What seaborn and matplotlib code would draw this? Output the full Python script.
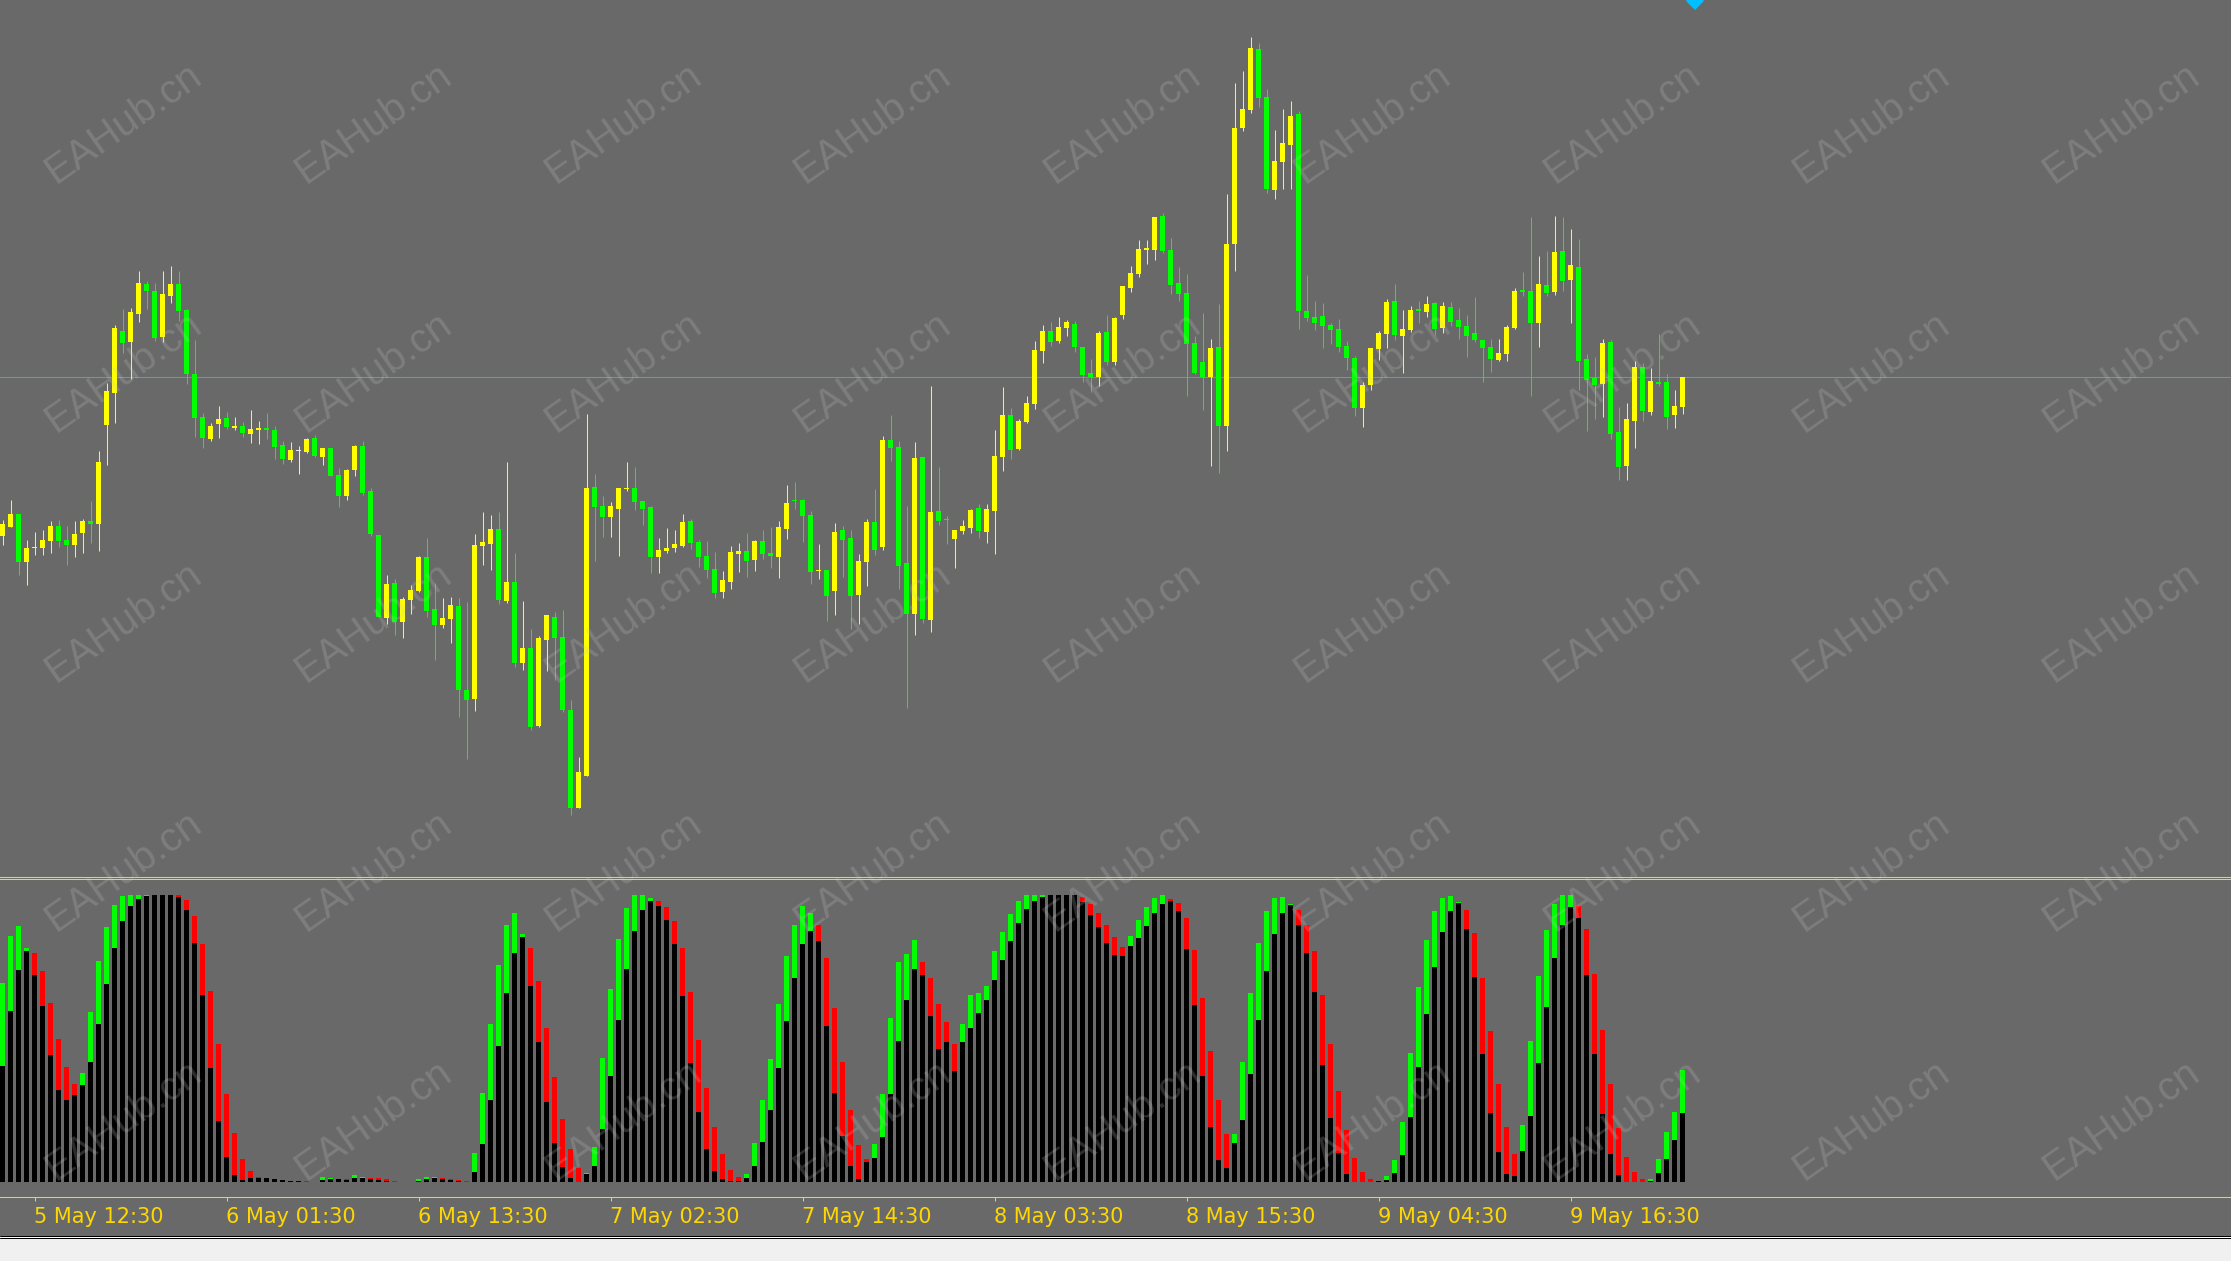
import numpy as np
import pandas as pd
import matplotlib
matplotlib.use("Agg")
import matplotlib.pyplot as plt
import seaborn as sns
from matplotlib.lines import Line2D
from matplotlib.patches import Rectangle

# ---------------- data (30-min bars, price in points) ----------------
open_ = [
    464, 473, 486, 438, 452, 452, 459, 474, 460, 455,
    467, 479, 476, 575, 607, 669, 658, 686, 716, 709,
    663, 704, 716, 690, 626, 583, 561, 576, 582, 572,
    574, 566, 570, 572, 570, 555, 540, 549, 548, 562,
    543, 552, 525, 504, 530, 554, 509, 465, 382, 417,
    378, 400, 409, 443, 391, 375, 381, 394, 310, 301,
    454, 456, 471, 399, 418, 337, 352, 274, 360, 383,
    363, 290, 192, 224, 513, 494, 483, 491, 511, 512,
    499, 493, 443, 449, 452, 454, 479, 458, 444, 431,
    408, 418, 446, 449, 440, 459, 447, 443, 471, 500,
    500, 485, 429, 430, 409, 470, 462, 405, 438, 478,
    453, 560, 553, 437, 386, 543, 380, 489, 481, 461,
    469, 472, 492, 468, 489, 543, 585, 551, 578, 596,
    649, 669, 659, 672, 676, 653, 627, 623, 668, 638,
    685, 712, 726, 750, 750, 784, 750, 717, 707, 657,
    638, 623, 653, 574, 756, 872, 890, 951, 903, 810,
    838, 855, 886, 689, 683, 684, 675, 671, 654, 642,
    592, 615, 651, 666, 699, 664, 670, 691, 688, 697,
    672, 693, 680, 674, 667, 660, 653, 640, 646, 672,
    710, 709, 677, 715, 708, 749, 720, 733, 641, 622,
    616, 658, 568, 534, 579, 633, 588, 618, 618, 585,
    593,
]
high = [
    480, 500, 486, 460, 468, 470, 479, 480, 474, 479,
    481, 499, 549, 617, 675, 691, 692, 729, 719, 717,
    729, 734, 729, 691, 660, 587, 577, 594, 588, 583,
    578, 590, 579, 587, 574, 559, 558, 554, 562, 565,
    552, 552, 532, 531, 555, 559, 512, 465, 425, 421,
    403, 415, 444, 462, 417, 402, 403, 402, 398, 466,
    488, 485, 488, 538, 447, 399, 371, 364, 385, 388,
    390, 300, 243, 586, 526, 504, 498, 512, 538, 533,
    499, 494, 462, 472, 470, 486, 481, 460, 459, 448,
    429, 454, 457, 467, 460, 470, 473, 479, 515, 518,
    501, 489, 456, 430, 477, 474, 470, 446, 481, 511,
    564, 585, 559, 494, 558, 543, 614, 533, 484, 470,
    480, 491, 496, 496, 570, 613, 592, 581, 604, 659,
    675, 678, 683, 680, 679, 653, 641, 669, 685, 683,
    714, 734, 760, 760, 783, 787, 762, 733, 726, 664,
    687, 661, 696, 806, 917, 929, 963, 957, 911, 870,
    891, 899, 889, 725, 699, 697, 677, 681, 659, 644,
    618, 652, 669, 701, 716, 690, 694, 699, 704, 698,
    698, 698, 692, 685, 703, 660, 661, 661, 675, 712,
    728, 783, 744, 749, 784, 783, 771, 761, 646, 643,
    661, 660, 593, 597, 639, 637, 632, 666, 626, 610,
    623,
]
low = [
    455, 473, 425, 415, 445, 445, 447, 453, 435, 443,
    447, 457, 449, 535, 577, 647, 621, 678, 691, 659,
    658, 697, 679, 616, 563, 552, 559, 562, 571, 570,
    563, 557, 556, 561, 541, 536, 538, 526, 547, 543,
    535, 524, 493, 500, 524, 505, 464, 383, 376, 365,
    362, 386, 408, 383, 340, 372, 357, 283, 241, 289,
    435, 430, 396, 397, 333, 330, 270, 273, 329, 320,
    288, 185, 192, 224, 439, 463, 463, 444, 509, 490,
    475, 427, 427, 447, 448, 453, 451, 433, 422, 402,
    402, 411, 428, 423, 429, 441, 432, 422, 461, 491,
    458, 416, 421, 379, 385, 423, 371, 376, 414, 445,
    450, 539, 411, 292, 365, 377, 368, 475, 456, 432,
    466, 467, 462, 457, 446, 529, 541, 550, 577, 591,
    637, 654, 657, 664, 648, 618, 608, 614, 635, 635,
    681, 708, 723, 736, 740, 747, 706, 699, 604, 626,
    590, 534, 527, 549, 729, 869, 887, 893, 807, 801,
    811, 811, 671, 679, 670, 652, 656, 648, 630, 584,
    573, 610, 640, 652, 660, 627, 668, 677, 683, 665,
    667, 674, 661, 643, 658, 618, 628, 639, 639, 671,
    704, 604, 653, 704, 705, 709, 677, 610, 569, 581,
    583, 561, 520, 520, 552, 579, 585, 614, 571, 572,
    586,
]
close = [
    476, 486, 438, 452, 453, 460, 474, 459, 455, 466,
    479, 476, 538, 609, 672, 657, 688, 717, 709, 662,
    706, 716, 689, 626, 582, 562, 574, 581, 573, 574,
    567, 571, 572, 570, 553, 541, 550, 549, 561, 544,
    552, 524, 504, 530, 554, 507, 466, 383, 416, 378,
    401, 410, 443, 389, 375, 382, 395, 310, 300, 455,
    458, 471, 400, 418, 337, 352, 273, 362, 385, 362,
    290, 192, 228, 512, 493, 483, 494, 512, 512, 498,
    491, 443, 450, 452, 456, 478, 457, 443, 430, 407,
    420, 448, 449, 439, 459, 446, 444, 473, 497, 499,
    484, 428, 430, 404, 468, 460, 404, 439, 478, 450,
    560, 552, 434, 386, 542, 381, 488, 479, 480, 470,
    474, 490, 469, 491, 544, 585, 550, 579, 597, 650,
    669, 658, 673, 678, 653, 625, 623, 667, 638, 682,
    714, 727, 751, 752, 783, 749, 715, 706, 656, 627,
    623, 652, 574, 756, 872, 891, 952, 902, 811, 839,
    857, 884, 689, 682, 677, 674, 670, 653, 642, 592,
    615, 652, 667, 698, 665, 671, 690, 689, 696, 671,
    694, 678, 673, 664, 660, 652, 641, 647, 673, 709,
    708, 677, 716, 707, 748, 719, 735, 639, 620, 615,
    657, 566, 533, 581, 633, 589, 619, 616, 583, 594,
    623,
]

# oscillator (0..100): coloured value and black base value
osc_value = [
    69.2, 85.7, 89.2, 81.7, 79.7, 73.5, 62.2, 49.8, 40.0, 34.1,
    37.9, 59.2, 77.0, 88.8, 96.5, 99.7, 100, 100, 100, 100,
    100, 100, 100, 98.3, 92.7, 82.9, 66.5, 48.0, 30.6, 17.0,
    7.9, 3.7, 1.6, 1.3, 1.2, 0.7, 0.5, 0.3, 0.2, 0.1,
    1.6, 1.3, 1.0, 0.9, 2.3, 1.6, 1.3, 1.3, 0.9, 0.2,
    0.1, 0.1, 0.9, 1.6, 1.6, 1.3, 0.9, 0.6, 0.2, 10.0,
    30.9, 55.0, 75.6, 89.5, 93.7, 86.4, 81.5, 70.0, 53.6, 36.5,
    21.9, 11.4, 4.8, 3.0, 12.1, 43.1, 67.2, 84.7, 95.5, 100,
    100, 99.0, 97.9, 95.8, 90.9, 81.5, 66.2, 49.4, 32.7, 19.1,
    9.7, 4.1, 1.6, 2.7, 13.5, 28.5, 42.8, 62.0, 78.7, 89.5,
    96.2, 93.7, 89.5, 78.0, 60.6, 41.7, 25.0, 12.8, 7.9, 13.1,
    30.6, 57.1, 76.6, 79.4, 84.3, 76.6, 71.0, 62.0, 55.7, 48.0,
    55.0, 65.1, 65.8, 68.3, 80.5, 87.1, 93.4, 97.9, 100, 100,
    100, 100, 100, 100, 100, 99.3, 96.9, 93.7, 89.5, 85.3,
    81.9, 85.7, 91.3, 95.8, 99.0, 100, 98.5, 97.2, 92.0, 80.8,
    64.1, 45.6, 28.5, 16.6, 16.6, 41.7, 65.8, 83.3, 94.4, 99.0,
    99.3, 96.9, 94.8, 89.5, 80.5, 65.3, 48.0, 31.6, 18.0, 8.3,
    3.4, 0.9, 0.2, 2.0, 7.6, 20.8, 44.9, 67.9, 84.3, 94.4,
    99.0, 99.7, 97.6, 94.8, 86.7, 71.0, 52.6, 34.1, 19.1, 9.7,
    19.8, 49.1, 71.7, 87.8, 96.9, 100, 100, 96.2, 88.1, 72.4,
    53.0, 34.1, 18.7, 8.6, 3.4, 0.9, 0.9, 7.9, 17.3, 24.3,
    39.0,
]
osc_base = [
    40.3, 59.5, 73.8, 80.5, 72.1, 61.3, 44.2, 32.0, 28.5, 30.2,
    33.7, 41.7, 55.0, 69.0, 81.5, 90.9, 96.2, 98.6, 99.7, 100,
    100, 100, 99.4, 94.8, 83.3, 65.1, 39.7, 21.2, 8.6, 2.3,
    0.6, 1.4, 1.4, 1.3, 0.9, 0.6, 0.2, 0.2, 0.1, 0.1,
    0.7, 1.0, 1.0, 0.6, 1.4, 1.4, 0.9, 0.7, 0.3, 0.0,
    0.1, 0.1, 0.3, 1.0, 1.3, 0.9, 0.6, 0.3, 0.0, 3.4,
    13.1, 28.5, 47.3, 65.8, 79.8, 85.3, 68.3, 48.7, 27.8, 13.5,
    5.1, 1.4, 0.0, 2.7, 5.5, 18.4, 36.9, 56.4, 74.2, 87.4,
    94.8, 97.9, 96.2, 91.3, 82.9, 64.8, 41.4, 24.3, 11.4, 3.7,
    0.9, 0.2, 0.2, 1.3, 5.5, 13.8, 25.0, 39.7, 56.0, 71.0,
    82.9, 87.3, 84.0, 54.3, 30.9, 15.9, 5.5, 0.9, 6.9, 8.3,
    15.6, 30.6, 49.1, 63.4, 74.2, 72.1, 57.8, 46.3, 48.8, 38.6,
    48.7, 53.6, 58.8, 63.4, 70.3, 77.3, 84.0, 90.2, 95.1, 97.9,
    99.3, 100, 100, 100, 100, 97.6, 93.0, 88.8, 83.3, 79.1,
    78.7, 82.2, 85.0, 89.2, 93.7, 96.9, 98.0, 94.4, 81.2, 61.6,
    36.9, 19.1, 7.6, 4.8, 13.5, 21.5, 37.6, 56.4, 73.5, 86.4,
    93.7, 96.5, 89.5, 79.8, 66.2, 40.9, 22.2, 10.0, 2.7, 0.0,
    0.0, 0.0, 0.2, 0.6, 3.0, 9.3, 22.6, 40.0, 58.5, 74.9,
    87.0, 94.4, 97.2, 88.1, 71.4, 44.5, 24.0, 10.3, 2.7, 2.0,
    10.7, 22.9, 41.4, 60.9, 78.0, 89.5, 95.8, 92.0, 72.1, 44.5,
    23.6, 9.7, 2.3, 0.0, 0.0, 0.0, 0.2, 3.0, 7.9, 14.5,
    24.0,
]
# colour of the oscillator bars as runs: G = rising (lime), R = falling (red)
osc_runs = [("G", 4), ("R", 6), ("G", 12), ("R", 17), ("G", 4), ("R", 1),
            ("G", 2), ("R", 6), ("G", 3), ("R", 4), ("G", 7), ("R", 7),
            ("G", 9), ("R", 11), ("G", 9), ("R", 7), ("G", 6), ("R", 5),
            ("G", 15), ("R", 6), ("G", 5), ("R", 8), ("G", 8), ("R", 11),
            ("G", 10), ("R", 7), ("G", 7), ("R", 9), ("G", 5)]

tick_bars = [4, 28, 52, 76, 100, 124, 148, 172, 196]
tick_labels = ["5 May 12:30", "6 May 01:30", "6 May 13:30", "7 May 02:30",
               "7 May 14:30", "8 May 03:30", "8 May 15:30", "9 May 04:30",
               "9 May 16:30"]
current_price = 623
signal_bar = [211.5]
signal_price = [999.5]

# ---------------- styling ----------------
W, H, DPI = 2231, 1261, 100
BG = "#696969"
GOLD = "#ffd700"
UP = "#ffff00"
DOWN = "#00ff00"
DOJI = "#e6e6fa"

sns.set_theme(style="dark", rc={"axes.facecolor": BG, "figure.facecolor": BG,
                                "savefig.facecolor": BG})
plt.rcParams["font.family"] = ["DejaVu Sans"]

n = min(len(open_), len(high), len(low), len(close))
o = np.array(open_[:n], float)
c = np.array(close[:n], float)
h = np.maximum(np.array(high[:n], float), np.maximum(o, c))
l = np.minimum(np.array(low[:n], float), np.minimum(o, c))
idx = np.arange(n)

dirs = []
for k, cnt in osc_runs:
    dirs += [k] * cnt
m = min(len(osc_value), len(osc_base))
dirs = (dirs + ["G"] * m)[:m]
osc = pd.DataFrame({"bar": np.arange(m), "value": osc_value[:m],
                    "base": osc_base[:m], "dir": dirs})

fig = plt.figure(figsize=(W / DPI, H / DPI), dpi=DPI, facecolor=BG)

y_main_bot = 877
y_sub_top, y_sub_bot = 879, 1197
ax = fig.add_axes([0, 1 - y_main_bot / H, 1, y_main_bot / H])
axo = fig.add_axes([0, 1 - y_sub_bot / H, 1, (y_sub_bot - y_sub_top) / H])

xl = (-2.5 / 8, (W - 2.5) / 8)

# ---------------- candles ----------------
cols = np.where(c > o, UP, np.where(c < o, DOWN, DOJI))
ax.vlines(idx, l, h, colors=cols, linewidth=0.75, zorder=2)
body_h = np.where(np.abs(c - o) < 1.2, 1.2, np.abs(c - o))
ax.bar(idx, body_h, bottom=np.minimum(o, c), width=0.625, color=cols,
       linewidth=0, zorder=3)
ax.axhline(current_price, color="#00bfff", linewidth=0.75, zorder=1)
ax.plot(signal_bar, signal_price, linestyle="none", marker="D",
        markersize=9.5, color="#00bfff", markeredgewidth=0, zorder=4)

ax.set_xlim(*xl)
ax.set_ylim(123, 1000)
ax.set_xticks([])
ax.set_yticks([])
ax.grid(False)
for s in ["top", "left", "right"]:
    ax.spines[s].set_visible(False)
ax.spines["bottom"].set_color(GOLD)
ax.spines["bottom"].set_linewidth(0.75)

# ---------------- oscillator histogram ----------------
sns.barplot(data=osc, x="bar", y="value", hue="dir",
            palette={"G": "#00ff00", "R": "#ff0000"}, native_scale=True,
            width=0.625, saturation=1, errorbar=None, legend=False,
            linewidth=0, ax=axo)
sns.barplot(data=osc, x="bar", y="base", color="#000000", native_scale=True,
            width=0.625, saturation=1, errorbar=None, linewidth=0, ax=axo)
axo.set_xlim(*xl)
axo.set_ylim(-(y_sub_bot - 1182) / 2.87, (1182 - y_sub_top) / 2.87)
axo.set_xlabel("")
axo.set_ylabel("")
axo.set_yticks([])
axo.grid(False)
for s in ["left", "right"]:
    axo.spines[s].set_visible(False)
for s in ["top", "bottom"]:
    axo.spines[s].set_color(GOLD)
    axo.spines[s].set_linewidth(0.75)
axo.set_xticks(tick_bars)
axo.set_xticklabels(tick_labels)
axo.tick_params(axis="x", colors=GOLD, length=3, width=0.75, direction="out",
                pad=4, labelsize=15, bottom=True)
for lab in axo.get_xticklabels():
    lab.set_horizontalalignment("left")
    lab.set_color(GOLD)

# ---------------- window frame at the bottom ----------------
fig.patches.append(Rectangle((0, 0), 1, (H - 1236) / H, transform=fig.transFigure,
                             facecolor="#f0f0f0", edgecolor="none", zorder=5))
for yy, colr in [(1235.5, "#000000"), (1236.5, "#ffffff"), (1237.5, "#000000")]:
    fig.add_artist(Line2D([0, 1], [1 - yy / H, 1 - yy / H], transform=fig.transFigure,
                          color=colr, linewidth=0.72, zorder=6))

# ---------------- watermark ----------------
for cx in [124 + 249.7 * k for k in range(9)]:
    for cy in [123 + 249.3 * k for k in range(5)]:
        fig.text(cx / W, 1 - cy / H, "EAHub.cn", rotation=35, rotation_mode="anchor",
                 ha="center", va="center", fontsize=29, family=["Liberation Sans", "DejaVu Sans"],
                 color="#c8c8c8", alpha=0.22, zorder=10)

fig.savefig("out.png", dpi=DPI, facecolor=BG)
